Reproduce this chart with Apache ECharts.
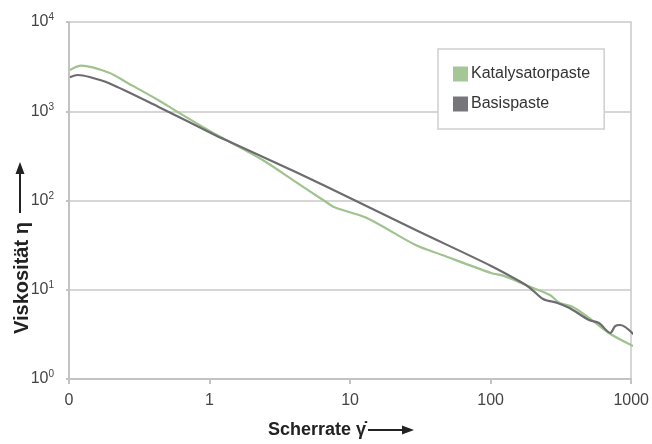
<!DOCTYPE html>
<html>
<head>
<meta charset="utf-8">
<script src="https://cdn.jsdelivr.net/npm/echarts@6/dist/echarts.min.js"></script>
<style>
  html, body { margin: 0; padding: 0; background: #fff; }
  #chart { width: 652px; height: 444px; }
</style>
</head>
<body>
<div id="chart"></div>
<script>
var katalysatorX = [0.1016, 0.1226, 0.193, 0.252, 0.4305, 0.5935, 1.128, 2.386, 4.07, 6.59, 7.74, 13.14, 29.3, 45.2, 100.7, 124, 191, 264, 310, 382, 501, 692, 1033];
var katalysatorY = [2898, 3238, 2704, 2144, 1337, 981, 542, 284, 162.5, 98.7, 83.9, 63.7, 31.7, 24.5, 15.4, 14.3, 10.8, 8.73, 7.1, 6.46, 4.83, 3.28, 2.34];
var basisX = [0.1016, 0.1155, 0.14, 0.193, 0.4305, 1.128, 1.39, 4.07, 10.67, 29.3, 100.7, 163, 191, 236, 295, 364, 501, 589, 711, 769, 833, 1062];
var basisY = [2400, 2548, 2420, 2057, 1125, 528, 456, 210, 101.3, 46.7, 18.5, 12.3, 10.46, 7.88, 7.16, 6.25, 4.58, 4.24, 3.28, 3.92, 4.03, 3.06];
var seriesNames = ['Katalysatorpaste', 'Basispaste'];
var xTickLabels = {'-1': '0', '0': '1', '1': '10', '2': '100', '3': '1000'};

var fontNarrow = '"Liberation Sans Narrow", "Liberation Sans", Arial, sans-serif';
var titleColor = '#222';

function pairs(xs, ys) {
  return xs.map(function (x, i) { return [x, ys[i]]; });
}

var option = {
  animation: false,
  textStyle: { fontFamily: fontNarrow },
  grid: { left: 69, right: 10, top: 22, bottom: 65 },
  legend: {
    orient: 'vertical',
    left: 438,
    top: 49,
    padding: [17, 14, 17, 15],
    itemWidth: 15,
    itemHeight: 15,
    itemGap: 14,
    backgroundColor: '#fff',
    borderColor: '#cfcfcf',
    borderWidth: 1.5,
    borderRadius: 0,
    icon: 'rect',
    textStyle: { fontFamily: fontNarrow, fontSize: 16, color: '#333', padding: [0, 0, 0, -2] },
    data: seriesNames
  },
  xAxis: {
    type: 'log',
    logBase: 10,
    min: 0.1,
    max: 1000,
    axisLine: { show: true, lineStyle: { color: '#c3c3c3', width: 2 } },
    axisTick: { show: true, length: 5, lineStyle: { color: '#c3c3c3', width: 2 } },
    splitLine: { show: false },
    axisLabel: {
      margin: 14,
      fontSize: 16,
      color: '#444',
      fontFamily: fontNarrow,
      formatter: function (v) {
        var key = String(Math.round(Math.log10(v)));
        return xTickLabels[key] !== undefined ? xTickLabels[key] : '';
      }
    }
  },
  yAxis: [{
    type: 'log',
    logBase: 10,
    min: 1,
    max: 10000,
    axisLine: { show: true, lineStyle: { color: '#c3c3c3', width: 2 } },
    axisTick: { show: true, length: 3, lineStyle: { color: '#c3c3c3', width: 2 } },
    splitLine: { show: true, lineStyle: { color: '#c8c8c8', width: 1.5 } },
    axisLabel: {
      margin: 15,
      color: '#444',
      formatter: function (v) {
        var e = Math.round(Math.log10(v));
        return '{b|10}{s|' + e + '}';
      },
      rich: {
        b: { fontSize: 16, fontFamily: fontNarrow, color: '#444' },
        s: { fontSize: 10, fontFamily: fontNarrow, color: '#444', verticalAlign: 'top', padding: [0, 0, 9, 0] }
      }
    }
  }, {
    type: 'log',
    logBase: 10,
    min: 1,
    max: 10000,
    position: 'right',
    axisLine: { show: true, lineStyle: { color: '#c8c8c8', width: 1.5 } },
    axisTick: { show: false },
    axisLabel: { show: false },
    splitLine: { show: false }
  }],
  graphic: [
    // x-Achsentitel mit Pfeil
    { type: 'text', left: 268, top: 421,
      style: { text: 'Scherrate \u03B3\u0307', font: 'bold 18px ' + fontNarrow, fill: titleColor } },
    { type: 'line', shape: { x1: 368, y1: 430, x2: 404, y2: 430 },
      style: { stroke: titleColor, lineWidth: 2 } },
    { type: 'polygon', shape: { points: [[414, 430], [402, 425.5], [402, 434.5]] },
      style: { fill: titleColor } },
    // y-Achsentitel mit Pfeil
    { type: 'text', x: 12, y: 334, rotation: Math.PI / 2,
      style: { text: 'Viskosität \u03B7', font: 'bold 20px ' + fontNarrow, fill: titleColor } },
    { type: 'line', shape: { x1: 20, y1: 213, x2: 20, y2: 172 },
      style: { stroke: titleColor, lineWidth: 2 } },
    { type: 'polygon', shape: { points: [[20, 162], [15.5, 174], [24.5, 174]] },
      style: { fill: titleColor } }
  ],
  series: [{
    name: seriesNames[0],
    type: 'line',
    smooth: 0.3,
    showSymbol: false,
    clip: false,
    color: '#a5c796',
    lineStyle: { color: '#9fc38e', width: 2.2 },
    data: pairs(katalysatorX, katalysatorY)
  }, {
    name: seriesNames[1],
    type: 'line',
    smooth: 0.3,
    showSymbol: false,
    clip: false,
    color: '#76767a',
    lineStyle: { color: '#6c6c70', width: 2.2 },
    data: pairs(basisX, basisY)
  }]
};

var myChart = echarts.init(document.getElementById('chart'));
myChart.setOption(option);
</script>
</body>
</html>
